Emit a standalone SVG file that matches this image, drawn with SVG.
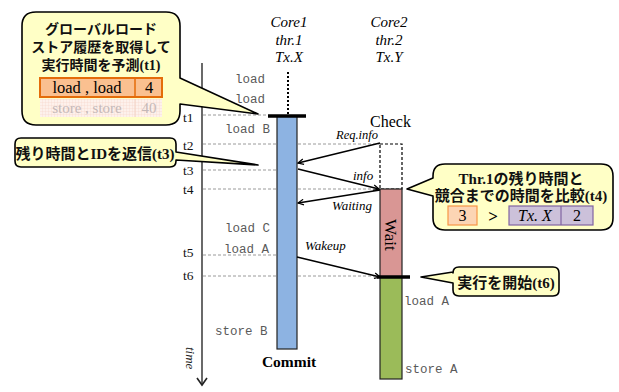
<svg xmlns="http://www.w3.org/2000/svg" width="619" height="392" viewBox="0 0 619 392">
<defs>
<style>
.mono{font-family:"Liberation Mono","DejaVu Sans Mono",monospace;font-size:12.5px;fill:#5a5a5a}
.ser{font-family:"Liberation Serif",serif}
.it{font-family:"Liberation Serif",serif;font-style:italic}
.jp{font-family:"Liberation Serif","Noto Sans CJK JP",serif;font-weight:bold;font-size:14px;fill:#111}
.tl{font-family:"Liberation Serif",serif;font-size:13.5px;fill:#111}
.dash{stroke:#9a9a9a;stroke-width:1;stroke-dasharray:3,2;fill:none}
.call{fill:#ffffc6;stroke:#000;stroke-width:1.6;stroke-linejoin:round}
.arr{stroke:#000;stroke-width:1.6;fill:none;marker-end:url(#ah)}
.bar{stroke:#222;stroke-width:1.2}
</style>
<marker id="ah" viewBox="0 0 10 10" refX="9" refY="5" markerWidth="7" markerHeight="7" orient="auto" markerUnits="userSpaceOnUse">
<path d="M1,1 L9,5 L1,9" fill="none" stroke="#000" stroke-width="1.8"/>
</marker>
<pattern id="grid" width="3" height="3" patternUnits="userSpaceOnUse">
<rect width="3" height="3" fill="#fdf1ec"/>
<path d="M0,0 H3 M0,0 V3" stroke="#f3d3c6" stroke-width="0.6"/>
</pattern>
</defs>

<g id="timeline">
<line x1="202" y1="63" x2="202" y2="385" stroke="#444" stroke-width="1.6"/>
<polyline points="197,378 202,385 207,378" fill="none" stroke="#222" stroke-width="1.6"/>
<text class="it" font-size="13" transform="translate(186,347) rotate(90)" fill="#222">time</text>
<text class="tl" x="183" y="122">t1</text>
<text class="tl" x="183" y="150">t2</text>
<text class="tl" x="183" y="175">t3</text>
<text class="tl" x="183" y="194">t4</text>
<text class="tl" x="183" y="257">t5</text>
<text class="tl" x="183" y="280">t6</text>
</g>

<g id="guides">
<line class="dash" x1="203" y1="115" x2="268" y2="115"/>
<line class="dash" x1="203" y1="144" x2="380" y2="144"/>
<line class="dash" x1="203" y1="170" x2="277" y2="170"/>
<line class="dash" x1="203" y1="189" x2="380" y2="189"/>
<line class="dash" x1="203" y1="255" x2="277" y2="255"/>
<line class="dash" x1="203" y1="276" x2="378" y2="276"/>
</g>

<g id="core1">
<text class="it" font-size="15" x="289" y="27" text-anchor="middle">Core1</text>
<text class="it" font-size="15" x="289" y="45" text-anchor="middle">thr.1</text>
<text class="it" font-size="15" x="289" y="62" text-anchor="middle">Tx.X</text>
<line x1="288" y1="72" x2="288" y2="114" stroke="#000" stroke-width="2" stroke-dasharray="2,2"/>
<rect class="bar" x="277" y="116" width="20" height="233" fill="#8db3e2"/>
<line x1="268" y1="116" x2="306" y2="116" stroke="#000" stroke-width="3.5"/>
<text class="ser" font-size="15.5" font-weight="bold" x="289" y="367" text-anchor="middle">Commit</text>
<text class="mono" x="235" y="83">load</text>
<text class="mono" x="235" y="103">load</text>
<text class="mono" x="225" y="133">load B</text>
<text class="mono" x="225" y="232">load C</text>
<text class="mono" x="224" y="253">load A</text>
<text class="mono" x="215" y="335">store B</text>
</g>

<g id="core2">
<text class="it" font-size="15" x="389" y="27" text-anchor="middle">Core2</text>
<text class="it" font-size="15" x="389" y="45" text-anchor="middle">thr.2</text>
<text class="it" font-size="15" x="389" y="62" text-anchor="middle">Tx.Y</text>
<text class="ser" font-size="16" x="370" y="127">Check</text>
<rect x="380" y="144" width="22" height="45" fill="none" stroke="#000" stroke-width="1.2" stroke-dasharray="3,2"/>
<rect class="bar" x="380" y="189" width="22" height="88" fill="#d99694"/>
<text class="ser" font-size="17" transform="translate(385,219) rotate(90)">Wait</text>
<rect class="bar" x="380" y="277" width="22" height="102" fill="#9bbb59"/>
<line x1="377" y1="277" x2="410" y2="277" stroke="#000" stroke-width="3.5"/>
<text class="mono" x="404" y="305">load A</text>
<text class="mono" x="405" y="373">store A</text>
</g>

<g id="connectors">
<line class="arr" x1="380" y1="143" x2="298" y2="163"/>
<line class="arr" x1="298" y1="169" x2="379" y2="189"/>
<line class="arr" x1="380" y1="190" x2="298" y2="203"/>
<line class="arr" x1="297" y1="257" x2="380" y2="277"/>
<text class="it" font-size="12.5" x="336" y="139">Req.info</text>
<text class="it" font-size="13" x="353" y="180">info</text>
<text class="it" font-size="13" x="332" y="210">Waiting</text>
<text class="it" font-size="13" x="305" y="250">Wakeup</text>
</g>

<g id="callout-t1">
<path class="call" d="M36,12 H166 Q180,12 180,26 V78 L258,114 L180,104 V111 Q180,125 166,125 H36 Q22,125 22,111 V26 Q22,12 36,12 Z"/>
<text class="jp" x="101" y="34" text-anchor="middle">グローバルロード</text>
<text class="jp" x="101" y="52" text-anchor="middle">ストア履歴を取得して</text>
<text class="jp" x="101" y="70" text-anchor="middle">実行時間を予測(t1)</text>
<rect x="40" y="78" width="122" height="19" fill="#fac090" stroke="#e46c0a" stroke-width="2"/>
<line x1="135" y1="78" x2="135" y2="97" stroke="#e46c0a" stroke-width="1.5"/>
<text class="ser" font-size="16.5" x="87" y="93" text-anchor="middle">load , load</text>
<text class="ser" font-size="16.5" x="149" y="93" text-anchor="middle">4</text>
<rect x="40" y="99" width="122" height="18" fill="url(#grid)"/>
<line x1="135" y1="99" x2="135" y2="117" stroke="#f3d3c6" stroke-width="1"/>
<text class="ser" font-size="15" x="87" y="113" text-anchor="middle" fill="#c4b8b8">store , store</text>
<text class="ser" font-size="15" x="149" y="113" text-anchor="middle" fill="#c4b8b8">40</text>
</g>

<g id="callout-t3">
<path class="call" d="M21,138 H170 Q176,138 176,144 V152 L258,165 L176,160 V161 Q176,167 170,167 H21 Q15,167 15,161 V144 Q15,138 21,138 Z"/>
<text class="jp" style="font-size:15px" x="95" y="159" text-anchor="middle">残り時間とIDを返信(t3)</text>
</g>

<g id="callout-t4">
<path class="call" d="M445,164 H601 Q613,164 613,176 V218 Q613,230 601,230 H445 Q433,230 433,218 V196 L407,189 L433,178 V176 Q433,164 445,164 Z"/>
<text class="jp" style="font-size:15px" x="521" y="184" text-anchor="middle">Thr.1の残り時間と</text>
<text class="jp" style="font-size:15px" x="521" y="201" text-anchor="middle">競合までの時間を比較(t4)</text>
<rect x="448" y="206" width="29" height="19" fill="#fcd5b4" stroke="#f79646" stroke-width="1.2"/>
<text class="ser" font-size="16" x="462.5" y="221" text-anchor="middle">3</text>
<text class="ser" font-size="17" font-weight="bold" x="493" y="222" text-anchor="middle">&gt;</text>
<rect x="509" y="206" width="84" height="19" fill="#ccc1da" stroke="#8064a2" stroke-width="1.2"/>
<line x1="561" y1="206" x2="561" y2="225" stroke="#8064a2" stroke-width="1.2"/>
<text class="it" font-size="16" x="535" y="221" text-anchor="middle">Tx. X</text>
<text class="ser" font-size="16" x="577" y="221" text-anchor="middle">2</text>
</g>

<g id="callout-t6">
<path class="call" d="M459,267 H553 Q559,267 559,273 V290 Q559,296 553,296 H459 Q453,296 453,290 V283 L421,277 L453,272 V273 Q453,267 459,267 Z"/>
<text class="jp" style="font-size:15px" x="506" y="288" text-anchor="middle">実行を開始(t6)</text>
</g>
</svg>
